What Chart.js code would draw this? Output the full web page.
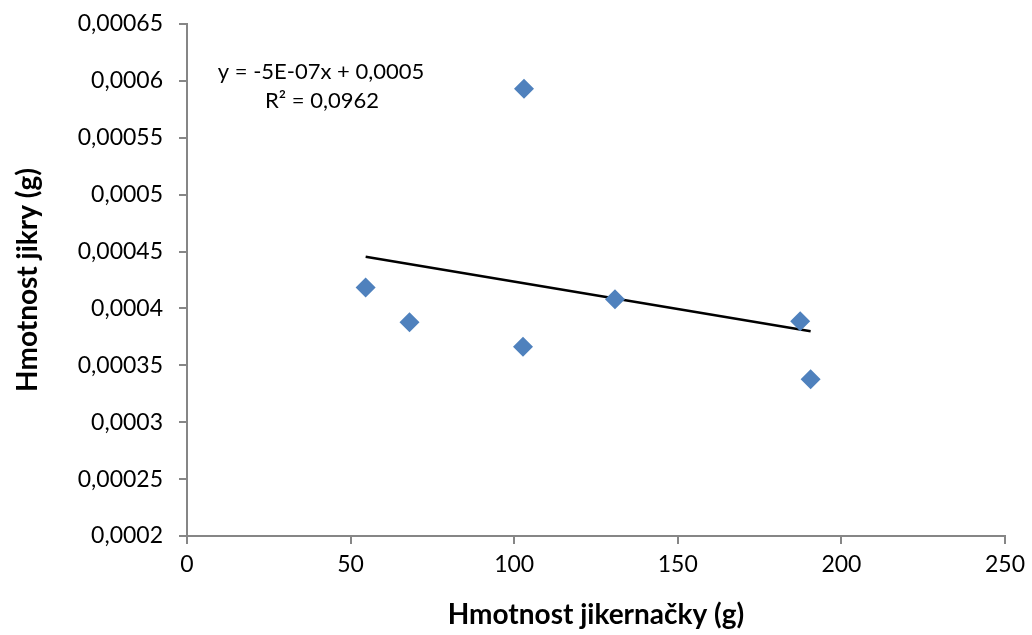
<!DOCTYPE html>
<html>
<head>
<meta charset="utf-8">
<script src="https://cdn.jsdelivr.net/npm/chart.js@4.4.0/dist/chart.umd.min.js"></script>
<style>
  html, body { margin: 0; padding: 0; background: #fff; }
  #wrap { width: 1032px; height: 635px; }
</style>
</head>
<body>
<div id="wrap"><canvas id="chart" width="1032" height="635"></canvas></div>
<script>
// Measured points (female weight g, egg weight g)
const femaleWeight = [54.6, 68.0, 102.7, 103.0, 130.8, 187.4, 190.6];
const eggWeight = [0.0004185, 0.0003878, 0.0003663, 0.000593, 0.000408, 0.0003887, 0.0003377];

// Trendline endpoints
const trendX = [54.6, 190.6];
const trendY = [0.0004454, 0.0003799];

const equationText = 'y = -5E-07x + 0,0005';
const r2Text = 'R² = 0,0962';

const axisColor = '#868686';
const fontFamily = 'Lato, "Open Sans", sans-serif';

// draws the trendline equation box
const equationPlugin = {
    id: 'equation',
    afterDraw(chart) {
        const ctx = chart.ctx;
        ctx.save();
        ctx.fillStyle = '#000';
        ctx.font = '22px ' + fontFamily;
        ctx.textAlign = 'center';
        ctx.textBaseline = 'middle';
        ctx.fillText(equationText, 321, 72);
        ctx.fillText(r2Text, 322, 101);
        ctx.restore();
    }
};

const ctx = document.getElementById('chart').getContext('2d');
new Chart(ctx, {
    type: 'scatter',
    data: {
        datasets: [
            {
                label: 'Hmotnost jikry',
                data: femaleWeight.map((x, i) => ({ x: x, y: eggWeight[i] })),
                pointStyle: 'rectRot',
                pointRadius: 10,
                pointHoverRadius: 10,
                backgroundColor: '#4F81BD',
                borderColor: '#4F81BD',
                borderWidth: 0
            },
            {
                label: 'Trend',
                data: trendX.map((x, i) => ({ x: x, y: trendY[i] })),
                showLine: true,
                pointRadius: 0,
                borderColor: '#000',
                borderWidth: 2.5,
                fill: false
            }
        ]
    },
    options: {
        responsive: false,
        animation: false,
        layout: { padding: { top: 24, right: 25, left: 0, bottom: 0 } },
        plugins: {
            legend: { display: false },
            tooltip: { enabled: false }
        },
        scales: {
            x: {
                type: 'linear',
                min: 0,
                max: 250,
                afterFit: scale => { scale.height = 99; },
                ticks: {
                    stepSize: 50,
                    padding: 7,
                    color: '#000',
                    font: { family: fontFamily, size: 23 }
                },
                grid: { drawOnChartArea: false, tickLength: 8, color: axisColor, lineWidth: 2 },
                border: { color: axisColor, width: 2 },
                title: {
                    display: true,
                    text: 'Hmotnost jikernačky (g)',
                    color: '#000',
                    font: { family: fontFamily, size: 28, weight: 'bold' },
                    padding: { top: 0, bottom: 3 }
                }
            },
            y: {
                type: 'linear',
                min: 0.0002,
                max: 0.00065,
                afterFit: scale => {
                    scale.width = 187;
                    scale.paddingTop = 0;
                    scale.paddingBottom = 0;
                },
                ticks: {
                    stepSize: 0.00005,
                    padding: 16,
                    color: '#000',
                    font: { family: fontFamily, size: 23 },
                    callback: v => String(parseFloat(v.toFixed(6))).replace('.', ',')
                },
                grid: { drawOnChartArea: false, tickLength: 8, color: axisColor, lineWidth: 2 },
                border: { color: axisColor, width: 2 },
                title: {
                    display: true,
                    text: 'Hmotnost jikry (g)',
                    color: '#000',
                    font: { family: fontFamily, size: 28, weight: 'bold' },
                    padding: { top: 11, bottom: 0 }
                }
            }
        }
    },
    plugins: [equationPlugin]
});
</script>
</body>
</html>
